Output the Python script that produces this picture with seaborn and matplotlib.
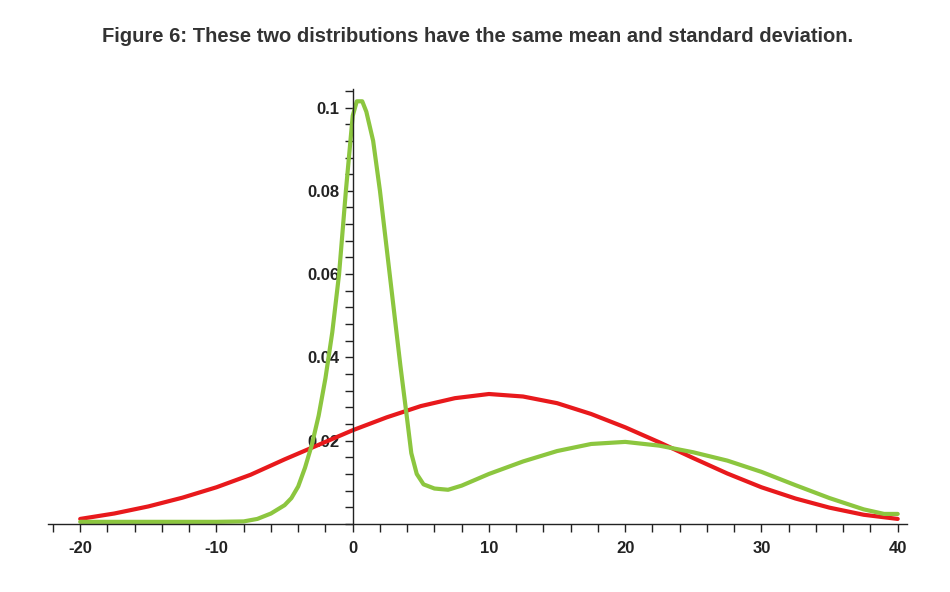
import numpy as np
import matplotlib.pyplot as plt
import seaborn as sns
from matplotlib.ticker import MultipleLocator

# values
red_x = [-20, -17.5, -15, -12.5, -10, -7.5, -5, -2.5, 0, 2.5, 5, 7.5, 10, 12.5, 15, 17.5, 20,
         22.5, 25, 27.5, 30, 32.5, 35, 37.5, 40]
red_y = [0.0012, 0.0025, 0.0042, 0.0063, 0.0088, 0.0118, 0.0155, 0.0190, 0.0225, 0.0256, 0.0283,
         0.0302, 0.0312, 0.0306, 0.0290, 0.0264, 0.0232, 0.0196, 0.0158, 0.0121, 0.0088,
         0.0061, 0.0039, 0.0022, 0.0012]
green_x = [-20, -15, -10, -8, -7, -6, -5, -4.5, -4, -3.5, -3, -2.5, -2, -1.5, -1, -0.5, 0, 0.3,
           0.7, 1, 1.5, 2, 2.5, 3, 3.5, 4, 4.3, 4.7, 5.2, 6, 7, 8, 10, 12.5, 15, 17.5, 20, 22.5,
           25, 27.5, 30, 32.5, 35, 37.5, 39, 40]
green_y = [0.0005, 0.0005, 0.0005, 0.0006, 0.0012, 0.0025, 0.0045, 0.0062, 0.009, 0.0135, 0.019,
           0.026, 0.035, 0.046, 0.060, 0.080, 0.098, 0.1015, 0.1015, 0.099, 0.092, 0.080, 0.066,
           0.052, 0.038, 0.025, 0.017, 0.012, 0.0095, 0.0085, 0.0082, 0.0092, 0.0120, 0.0150,
           0.0175, 0.0192, 0.0197, 0.0188, 0.0172, 0.0152, 0.0125, 0.0093, 0.0062, 0.0035,
           0.0024, 0.0024]

sns.set_style("white")
plt.rcParams['font.family'] = ['Liberation Sans', 'DejaVu Sans']

fig = plt.figure(figsize=(9.5, 5.92), dpi=100)
ax = fig.add_axes([0.05, 0.115, 0.905, 0.735])

sns.lineplot(x=red_x, y=red_y, color='#e8191c', linewidth=3, ax=ax)
sns.lineplot(x=green_x, y=green_y, color='#8cc63f', linewidth=3, ax=ax)

ax.set_xlim(-22.4, 40.7)
ax.set_ylim(0, 0.1045)

ax.spines['left'].set_position(('data', 0))
ax.spines['right'].set_visible(False)
ax.spines['top'].set_visible(False)
for s in ['left', 'bottom']:
    ax.spines[s].set_color('#222222')
    ax.spines[s].set_linewidth(1)

ax.set_xticks([-20, -10, 0, 10, 20, 30, 40])
ax.set_xticklabels(['-20', '-10', '0', '10', '20', '30', '40'])
ax.set_yticks([0.02, 0.04, 0.06, 0.08, 0.1])
ax.set_yticklabels(['0.02', '0.04', '0.06', '0.08', '0.1'])
ax.xaxis.set_minor_locator(MultipleLocator(2))
ax.yaxis.set_minor_locator(MultipleLocator(0.004))
ax.tick_params(axis='both', which='both', direction='out', color='#222222', width=1,
               bottom=True, left=True)
ax.tick_params(axis='both', which='major', length=6, labelsize=12, labelcolor='#222222')
ax.tick_params(axis='x', which='major', pad=6)
ax.tick_params(axis='both', which='minor', length=6)
for lab in ax.get_xticklabels() + ax.get_yticklabels():
    lab.set_fontweight('bold')

fig.suptitle('Figure 6: These two distributions have the same mean and standard deviation.',
             x=0.503, y=0.955, fontsize=14.5, fontweight='bold', color='#333333')

fig.savefig('out.png', dpi=100)
